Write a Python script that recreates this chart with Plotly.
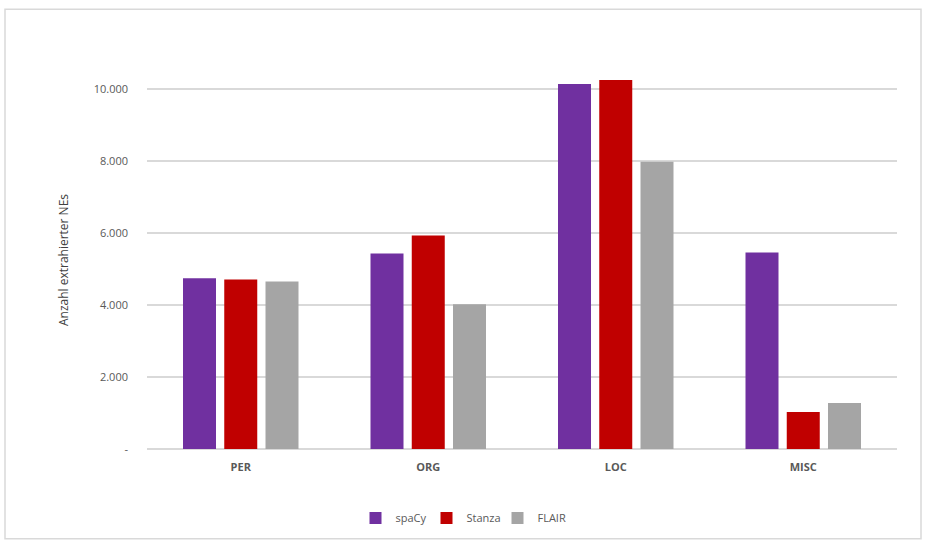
import plotly.graph_objects as go

categories = ["PER", "ORG", "LOC", "MISC"]
spacy_vals = [4740, 5430, 10140, 5460]
stanza_vals = [4710, 5930, 10250, 1025]
flair_vals = [4650, 4020, 7980, 1275]

tick_vals = [0, 2000, 4000, 6000, 8000, 10000]
tick_text = ["-", "2.000", "4.000", "6.000", "8.000", "10.000"]

series = [
    ("spaCy", spacy_vals, "#7030A0"),
    ("Stanza", stanza_vals, "#C00000"),
    ("FLAIR", flair_vals, "#A5A5A5"),
]

fig = go.Figure()
for name, vals, color in series:
    fig.add_trace(go.Bar(name=name, x=categories, y=vals, marker_color=color,
                         marker_line_width=0))

W, H = 925, 543
ml, mr, mt, mb = 147, 28, 71, 93
pw, ph = W - ml - mr, H - mt - mb

def px_x(p):
    return (p - ml) / pw

def px_y(p):
    return (H - mb - p) / ph

fig.update_layout(
    width=W, height=H,
    margin=dict(l=ml, r=mr, t=mt, b=mb),
    paper_bgcolor="white", plot_bgcolor="white",
    font=dict(family="Open Sans, Liberation Sans, sans-serif", color="#595959", size=11),
    barmode="group", bargap=0.34, bargroupgap=0.2,
    showlegend=True,
    legend=dict(orientation="h", x=0.42, xanchor="center", y=px_y(518), yanchor="middle",
                font=dict(size=11, color="#595959"), itemwidth=30,
                entrywidth=26, entrywidthmode="pixels"),
    xaxis=dict(showline=False, ticks="", tickfont=dict(size=11, color="#595959"),
               tickprefix="<b>", ticksuffix="</b>", ticklabelstandoff=10),
    yaxis=dict(range=[0, 10500], tickvals=tick_vals, ticktext=tick_text,
               showgrid=True, gridcolor="#D9D9D9", gridwidth=1.5, zeroline=True,
               zerolinecolor="#D9D9D9", zerolinewidth=1.5, showline=False,
               ticks="", ticklabelstandoff=18,
               title=dict(text="Anzahl extrahierter NEs", standoff=22,
                          font=dict(size=12, color="#404040")),
               tickfont=dict(size=11, color="#595959")),
    shapes=[dict(type="rect", xref="paper", yref="paper",
                 x0=px_x(5), x1=px_x(921), y0=px_y(540), y1=px_y(9),
                 line=dict(color="#D9D9D9", width=1.5))],
)

fig.write_html("out.html")
